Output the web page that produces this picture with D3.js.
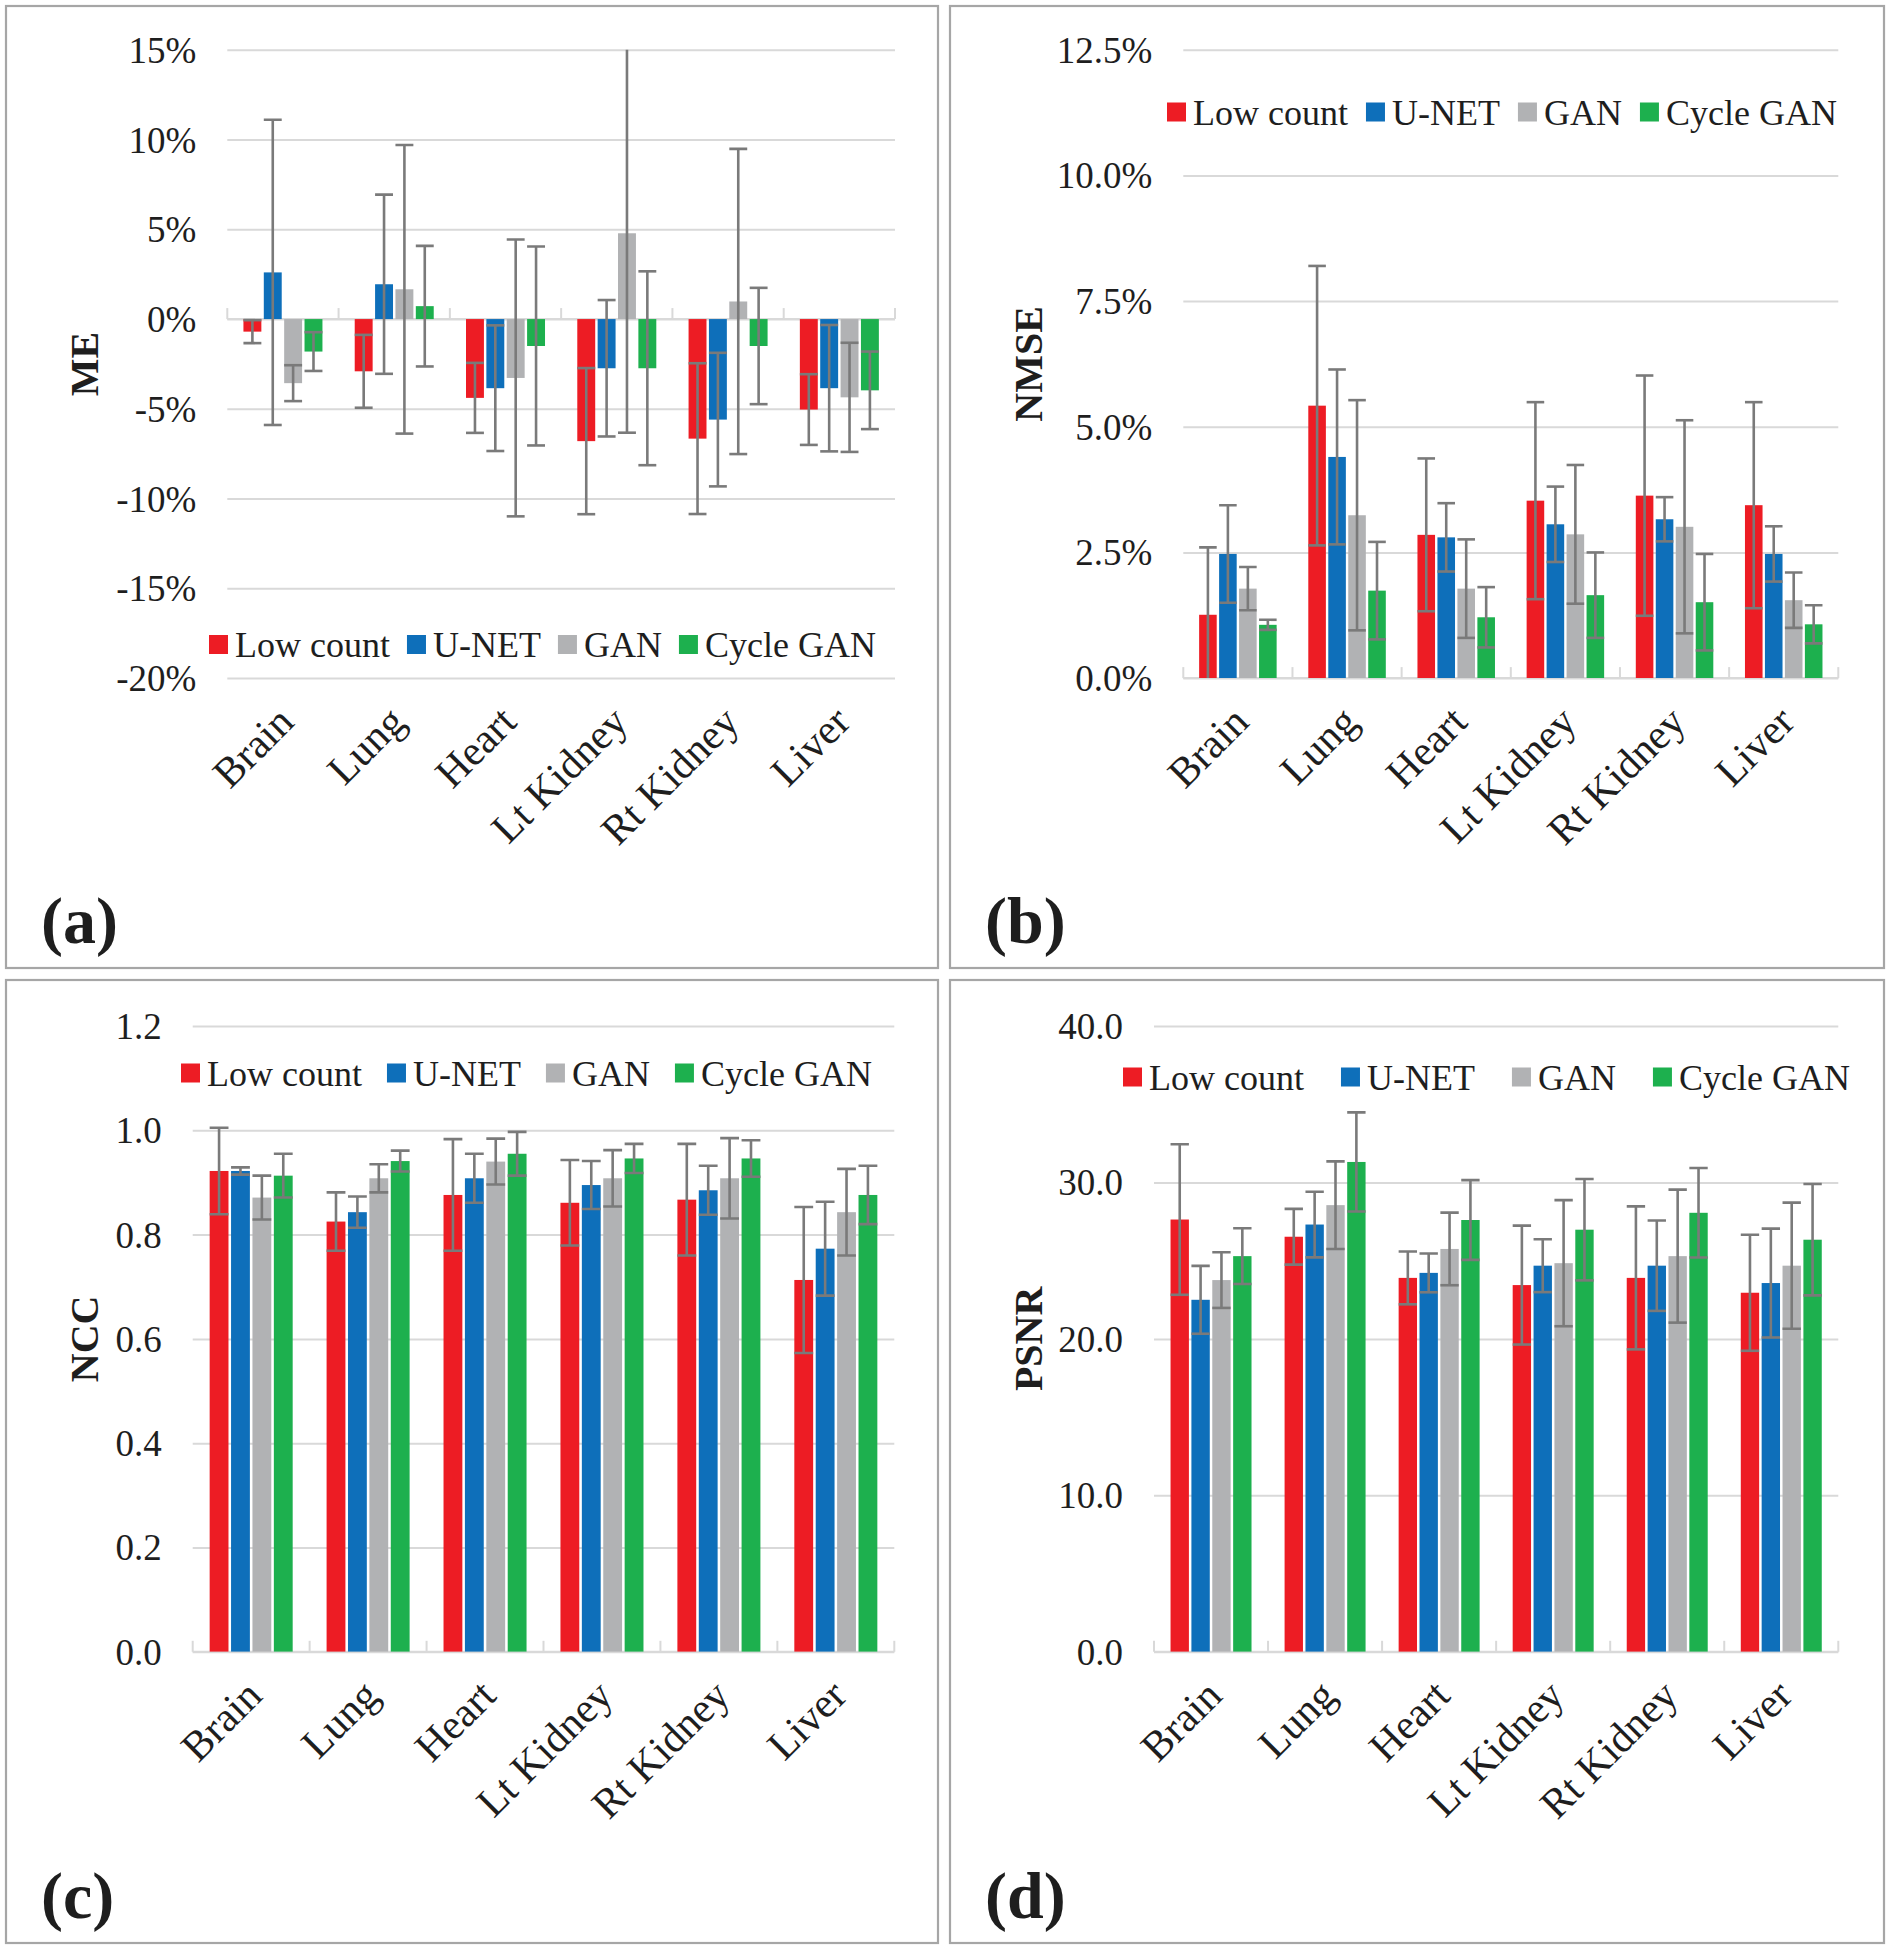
<!DOCTYPE html>
<html><head><meta charset="utf-8">
<script src="https://cdnjs.cloudflare.com/ajax/libs/d3/7.8.5/d3.min.js"></script>
<style>
body{margin:0;background:#fff;}
text{font-family:"Liberation Serif","Times New Roman",serif;fill:#1e1e1e;}
</style>
</head><body>
<svg id="chart" width="1890" height="1950"></svg>
<script>
// ---------- data ----------
const categories = ["Brain","Lung","Heart","Lt Kidney","Rt Kidney","Liver"];
const seriesNames = ["Low count","U-NET","GAN","Cycle GAN"];
const seriesColors = ["#ed1c24","#0e6fba","#b1b2b4","#1db04e"];

// (a) ME, percent; rows = series, columns = categories
const meMean = [
  [-0.70,-2.91,-4.39,-6.80,-6.66,-5.04],
  [ 2.60, 1.94,-3.85,-2.74,-5.60,-3.85],
  [-3.57, 1.66,-3.28, 4.78, 0.98,-4.36],
  [-1.81, 0.72,-1.50,-2.74,-1.50,-3.97]
];
const meSD = [
  [0.64,2.03,1.95,4.07,4.20,1.97],
  [8.50,4.99,3.50,3.80,3.72,3.52],
  [1.00,8.04,7.71,11.11,8.50,3.04],
  [1.08,3.36,5.54,5.40,3.24,2.16]
];
const meTicks = [15,10,5,0,-5,-10,-15,-20];

// (b) NMSE, percent
const nmseMean = [
  [1.26,5.42,2.85,3.53,3.63,3.44],
  [2.47,4.40,2.80,3.06,3.16,2.47],
  [1.78,3.24,1.78,2.86,3.01,1.55],
  [1.06,1.74,1.21,1.65,1.51,1.07]
];
const nmseSD = [
  [1.34,2.78,1.52,1.96,2.39,2.05],
  [0.97,1.74,0.68,0.75,0.44,0.55],
  [0.43,2.29,0.98,1.38,2.12,0.55],
  [0.10,0.97,0.60,0.85,0.96,0.38]
];
const nmseTicks = [0,2.5,5,7.5,10,12.5];

// (c) NCC
const nccMean = [
  [0.922,0.825,0.876,0.861,0.867,0.713],
  [0.922,0.843,0.908,0.895,0.885,0.773],
  [0.871,0.908,0.940,0.908,0.908,0.843],
  [0.913,0.941,0.955,0.946,0.946,0.876]
];
const nccSD = [
  [0.083,0.056,0.107,0.082,0.107,0.140],
  [0.007,0.030,0.047,0.046,0.047,0.090],
  [0.042,0.027,0.044,0.054,0.077,0.083],
  [0.042,0.020,0.042,0.028,0.035,0.056]
];
const nccTicks = [0,0.2,0.4,0.6,0.8,1.0,1.2];

// (d) PSNR
const psnrMean = [
  [27.63,26.53,23.90,23.44,23.90,22.95],
  [22.50,27.31,24.22,24.68,24.68,23.57],
  [23.76,28.55,25.75,24.84,25.29,24.68],
  [25.29,31.31,27.60,26.98,28.06,26.34]
];
const psnrSD = [
  [4.81,1.78,1.69,3.80,4.57,3.71],
  [2.17,2.10,1.24,1.69,2.89,3.48],
  [1.78,2.80,2.32,4.03,4.25,4.03],
  [1.78,3.17,2.55,3.24,2.86,3.56]
];
const psnrTicks = [0,10,20,30,40];

// ---------- layout ----------
const panels = [
  {id:"a", box:[6,6,938,968], plot:[227.3,895,49.8,678.1], domain:[-20,15], ticks:meTicks,
   fmt:d=>String(d)+"%", title:"ME", mean:meMean, sd:meSD, legend:[209,644.5,17]},
  {id:"b", box:[950,6,1884,968], plot:[1183.3,1838.3,49.8,678.1], domain:[0,12.5], ticks:nmseTicks,
   fmt:d=>d.toFixed(1)+"%", title:"NMSE", mean:nmseMean, sd:nmseSD, legend:[1167,112,18]},
  {id:"c", box:[6,980,938,1943], plot:[192.7,894.3,1026,1651.8], domain:[0,1.2], ticks:nccTicks,
   fmt:d=>d.toFixed(1), title:"NCC", mean:nccMean, sd:nccSD, legend:[181,1073,25]},
  {id:"d", box:[950,980,1884,1943], plot:[1154,1838.3,1026,1651.8], domain:[0,40], ticks:psnrTicks,
   fmt:d=>d.toFixed(1), title:"PSNR", mean:psnrMean, sd:psnrSD, legend:[1123,1077,37]}
];

const svg = d3.select("#chart");
const gridColor = "#d9d9d9";
const errColor = "#7a7a7a";

panels.forEach(p => {
  const [bx0,by0,bx1,by1] = p.box;
  const [px0,px1,pyTop,pyBot] = p.plot;
  const g = svg.append("g");

  g.append("rect").attr("x",bx0).attr("y",by0).attr("width",bx1-bx0).attr("height",by1-by0)
    .attr("fill","#fff").attr("stroke","#a6a6a6").attr("stroke-width",2.2);

  const x0 = d3.scaleBand().domain(categories).range([px0,px1]).paddingInner(0).paddingOuter(0);
  const bw = x0.bandwidth();
  const x1 = d3.scaleBand().domain(seriesNames).range([bw*0.145, bw*0.855]).paddingInner(0.12);
  const y = d3.scaleLinear().domain(p.domain).range([pyBot,pyTop]);

  // gridlines
  const yAxis = d3.axisLeft(y).tickValues(p.ticks).tickSize(-(px1-px0)).tickFormat("");
  const gg = g.append("g").attr("transform",`translate(${px0},0)`).call(yAxis);
  gg.select(".domain").remove();
  gg.selectAll("line").attr("stroke",gridColor).attr("stroke-width",2);

  // y tick labels
  g.selectAll(".ylab").data(p.ticks).enter().append("text")
    .attr("x",px0-31).attr("y",d=>y(d)).attr("dy","0.35em")
    .attr("text-anchor","end").style("font-size","37px").text(p.fmt);

  // y title
  g.append("text").attr("transform",`translate(${bx0+78},${(pyTop+pyBot)/2}) rotate(-90)`)
    .attr("text-anchor","middle").attr("dy","0.35em")
    .style("font-size","40px").style("font-weight","bold").text(p.title);

  // category axis (at zero)
  const zeroY = y(Math.max(p.domain[0],0));
  g.append("line").attr("x1",px0).attr("x2",px1).attr("y1",zeroY).attr("y2",zeroY)
    .attr("stroke",gridColor).attr("stroke-width",2);
  const bounds = categories.map(c=>x0(c)).concat([px1]);
  g.selectAll(".ctick").data(bounds).enter().append("line")
    .attr("x1",d=>d).attr("x2",d=>d).attr("y1",zeroY).attr("y2",zeroY-11)
    .attr("stroke",gridColor).attr("stroke-width",2);

  // clip
  const clipId = "clip-"+p.id;
  svg.append("clipPath").attr("id",clipId).append("rect")
    .attr("x",px0).attr("y",pyTop).attr("width",px1-px0).attr("height",pyBot-pyTop);

  const flat = [];
  seriesNames.forEach((s,si)=>categories.forEach((c,ci)=>{
    flat.push({s,si,c,v:p.mean[si][ci],e:p.sd[si][ci]});
  }));

  const bars = g.append("g").attr("clip-path",`url(#${clipId})`);
  bars.selectAll("rect").data(flat).enter().append("rect")
    .attr("x",d=>x0(d.c)+x1(d.s)).attr("width",x1.bandwidth())
    .attr("y",d=>Math.min(y(d.v),y(0))).attr("height",d=>Math.abs(y(d.v)-y(0)))
    .attr("fill",d=>seriesColors[d.si]);

  const errs = g.append("g").attr("clip-path",`url(#${clipId})`)
    .attr("stroke",errColor).attr("stroke-width",2.6);
  const cx = d=>x0(d.c)+x1(d.s)+x1.bandwidth()/2;
  const capHalf = x1.bandwidth()/2;
  errs.selectAll(".ev").data(flat).enter().append("line")
    .attr("x1",cx).attr("x2",cx).attr("y1",d=>y(d.v+d.e)).attr("y2",d=>y(d.v-d.e));
  errs.selectAll(".eu").data(flat).enter().append("line")
    .attr("x1",d=>cx(d)-capHalf).attr("x2",d=>cx(d)+capHalf)
    .attr("y1",d=>y(d.v+d.e)).attr("y2",d=>y(d.v+d.e));
  errs.selectAll(".el").data(flat).enter().append("line")
    .attr("x1",d=>cx(d)-capHalf).attr("x2",d=>cx(d)+capHalf)
    .attr("y1",d=>y(d.v-d.e)).attr("y2",d=>y(d.v-d.e));

  // category labels
  g.selectAll(".xlab").data(categories).enter().append("text")
    .attr("transform",d=>`translate(${x0(d)+bw/2+13},${pyBot+46}) rotate(-45)`)
    .attr("text-anchor","end").style("font-size","42px").text(d=>d);

  // legend
  const [lx,ly,lgap] = p.legend;
  let cur = lx;
  seriesNames.forEach((s,si)=>{
    g.append("rect").attr("x",cur).attr("y",ly-9.5).attr("width",19).attr("height",19)
      .attr("fill",seriesColors[si]);
    const t = g.append("text").attr("x",cur+26).attr("y",ly).attr("dy","0.35em")
      .style("font-size","36px").text(s);
    cur = cur + 26 + t.node().getComputedTextLength() + lgap;
  });

  // panel label
  g.append("text").attr("x",bx0+35).attr("y",by1-25)
    .style("font-size","66px").style("font-weight","bold").text(`(${p.id})`);
});
</script>
</body></html>
